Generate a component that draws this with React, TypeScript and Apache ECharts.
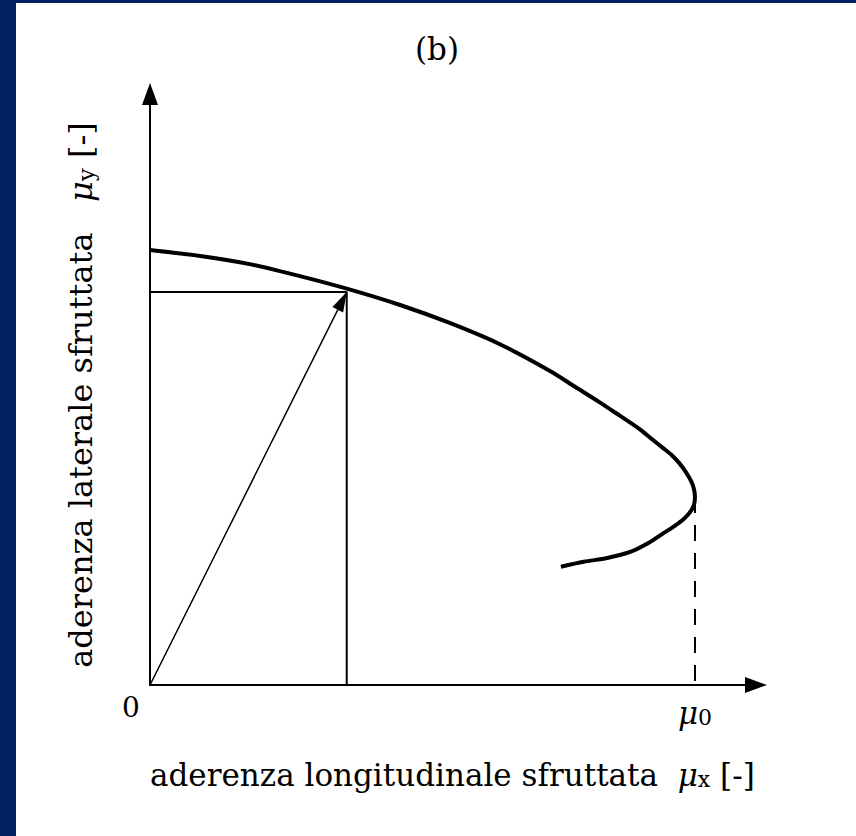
import React, { useEffect, useRef } from "react";
import * as echarts from "echarts";

const NAVY = "#00205f";
const FONT = "'DejaVu Serif', 'Liberation Serif', serif";

// Used adhesion curve: longitudinal (μx) vs lateral (μy), in units of μ0
const curveMuX = [
  0, 0.092, 0.183, 0.275, 0.361, 0.459, 0.55, 0.642, 0.734, 0.78, 0.826, 0.862, 0.899, 0.921,
  0.941, 0.958, 0.972, 0.983, 0.993, 0.998, 1.0, 0.998, 0.991, 0.98, 0.963, 0.943, 0.917, 0.881,
  0.839, 0.796, 0.754,
];
const curveMuY = [
  0.798, 0.787, 0.772, 0.75, 0.727, 0.697, 0.664, 0.625, 0.576, 0.547, 0.518, 0.494, 0.469, 0.451,
  0.435, 0.421, 0.406, 0.391, 0.374, 0.36, 0.345, 0.33, 0.317, 0.305, 0.292, 0.279, 0.262, 0.244,
  0.233, 0.226, 0.217,
];

// Operating point on the curve and the peak longitudinal adhesion μ0
const operatingPoint: [number, number] = [0.361, 0.721];
const mu0 = 1;
const mu0LateralAtPeak = 0.345;
const xLabelValues = [mu0];

const titleText = "(b)";
const xNameText = "aderenza longitudinale sfruttata";
const yNameText = "aderenza laterale sfruttata";
const originLabel = "0";

export default function App() {
  const ref = useRef<HTMLDivElement>(null);

  useEffect(() => {
    if (!ref.current) return;
    const chart = echarts.init(ref.current, null, { renderer: "svg" });

    const makeRich = (size: number) => ({
      t: { fontFamily: FONT, fontSize: size, fill: "#000", color: "#000" },
      mu: { fontFamily: FONT, fontSize: size, fontStyle: "italic", fill: "#000", color: "#000" },
      sub: {
        fontFamily: FONT,
        fontSize: Math.round(size * 0.71),
        fill: "#000",
        color: "#000",
        verticalAlign: "bottom",
      },
    });

    const option: any = {
      animation: false,
      backgroundColor: "#ffffff",
      title: {
        text: titleText,
        left: 432,
        top: 28,
        textAlign: "center",
        textStyle: { fontFamily: FONT, fontSize: 31, fontWeight: "normal", color: "#000" },
      },
      grid: { left: 150, top: 94, width: 606, height: 591 },
      xAxis: {
        type: "value",
        min: 0,
        max: 1.112,
        axisLine: {
          show: true,
          symbol: ["none", "triangle"],
          symbolSize: [16, 22],
          lineStyle: { color: "#000", width: 2 },
        },
        axisTick: { show: false },
        splitLine: { show: false },
        axisLabel: {
          customValues: xLabelValues,
          margin: 12,
          formatter: () => "{mu|μ}{sub|0}",
          rich: makeRich(31),
        },
      },
      yAxis: {
        type: "value",
        min: 0,
        max: 1.084,
        axisLine: {
          show: true,
          symbol: ["none", "triangle"],
          symbolSize: [16, 22],
          lineStyle: { color: "#000", width: 2 },
        },
        axisTick: { show: false },
        splitLine: { show: false },
        axisLabel: { show: false },
      },
      series: [
        {
          type: "line",
          data: curveMuX.map((x, i) => [x, curveMuY[i]]),
          smooth: 0.3,
          showSymbol: false,
          lineStyle: { color: "#000", width: 4 },
          silent: true,
          z: 3,
        },
        {
          type: "line",
          data: [
            [0, operatingPoint[1]],
            [operatingPoint[0], operatingPoint[1]],
            [operatingPoint[0], 0],
          ],
          showSymbol: false,
          lineStyle: { color: "#000", width: 2 },
          silent: true,
          z: 2,
          markLine: {
            silent: true,
            animation: false,
            label: { show: false },
            emphasis: { disabled: true },
            data: [
              [
                { coord: [0, 0], symbol: "none" },
                {
                  coord: operatingPoint,
                  symbol: "triangle",
                  symbolSize: [12, 20],
                  symbolOffset: [0, 10],
                },
              ],
              [
                { coord: [mu0, mu0LateralAtPeak], symbol: "none" },
                { coord: [mu0, 0], symbol: "none", lineStyle: { type: [16, 12], width: 2 } },
              ],
            ],
            lineStyle: { color: "#000", width: 1.5, type: "solid" },
          },
        },
      ],
      graphic: [
        { type: "rect", shape: { x: 0, y: 0, width: 16, height: 836 }, style: { fill: NAVY }, silent: true },
        { type: "rect", shape: { x: 0, y: 0, width: 856, height: 3 }, style: { fill: NAVY }, silent: true },
        {
          type: "text",
          x: 131,
          y: 707,
          style: {
            text: originLabel,
            fontFamily: FONT,
            fontSize: 28,
            fill: "#000",
            align: "center",
            verticalAlign: "middle",
          },
        },
        {
          type: "text",
          x: 150,
          y: 775,
          style: {
            text: `{t|${xNameText}  }{mu|μ}{sub|x}{t| [-]}`,
            rich: makeRich(31),
            align: "left",
            verticalAlign: "middle",
          },
        },
        {
          type: "text",
          x: 81,
          y: 395,
          rotation: Math.PI / 2,
          style: {
            text: `{t|${yNameText}   }{mu|μ}{sub|y}{t| [-]}`,
            rich: makeRich(32),
            align: "center",
            verticalAlign: "middle",
          },
        },
      ],
    };

    chart.setOption(option);
    return () => chart.dispose();
  }, []);

  return (
    <div
      ref={ref}
      style={{ position: "fixed", left: 0, top: 0, width: 856, height: 836 }}
    />
  );
}
